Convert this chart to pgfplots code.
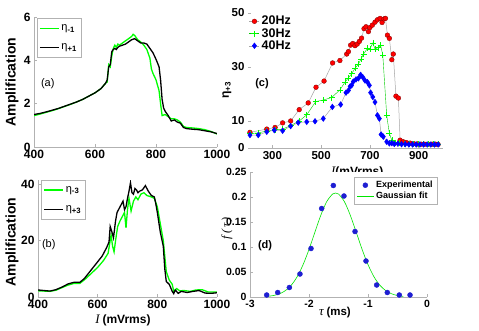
\documentclass[border=0pt]{standalone}
\usepackage{fontspec}
\setmainfont{Liberation Sans}
\newfontfamily\serif{Liberation Serif}
\usepackage{pgfplots}
\pgfplotsset{compat=1.18}
\definecolor{mgreen}{RGB}{0,255,0}
\definecolor{mblue}{RGB}{0,0,255}
\definecolor{dblue}{RGB}{30,30,210}
\pgfplotsset{
 mystyle/.style={
  scale only axis, axis x line*=bottom, axis y line*=left,
  axis line style={-,draw=gray!60, line width=0.8pt},
  tick style={gray!60, line width=0.6pt}, tick align=inside, major tick length=3pt,
  /pgf/number format/assume math mode=true,
  /pgf/number format/1000 sep={},
  ticklabel style={font=\bfseries\fontsize{12}{12}\selectfont},
  legend cell align=left,
 },
}
\begin{document}
\begin{tikzpicture}[x=1pt,y=1pt]
\useasboundingbox (0,0) rectangle (479,330);
% (a)
\begin{axis}[mystyle, at={(34pt,183pt)}, anchor=south west, width=183pt, height=130pt,
 xmin=400, xmax=1000, ymin=0, ymax=6, xtick={400,600,800,1000}, ytick={0,2,4,6},
 ylabel={\bfseries\fontsize{14}{14}\selectfont Amplification},
 ylabel style={at={(axis description cs:-0.12,0.5)}, anchor=center},
 legend style={at={(axis description cs:0.016,0.99)}, anchor=north west, draw=gray!60,
   font=\fontsize{11}{11}\selectfont, row sep=8pt, inner xsep=2pt, inner ysep=4pt},
 legend image code/.code={\draw[#1, line width=1.3pt] (0pt,0pt) -- (19pt,0pt);}]
\addplot[mgreen, line width=1.3pt] coordinates {
(400,1.45)(420,1.52)(440,1.60)(460,1.68)(480,1.77)(500,1.87)(520,1.97)(540,2.08)(560,2.20)(580,2.35)(600,2.50)(620,2.70)(635,2.95)(640,3.00)(645,3.80)(650,3.70)(655,4.20)(660,4.55)(665,4.70)(670,4.60)(675,4.75)(680,4.70)(690,4.80)(700,4.90)(710,5.00)(720,5.10)(725,5.20)(730,5.15)(740,4.95)(750,4.85)(760,4.70)(770,4.50)(780,4.10)(785,3.60)(790,3.40)(800,3.10)(810,2.60)(815,2.00)(820,1.45)(830,1.50)(840,1.40)(850,1.30)(860,1.30)(870,1.25)(880,1.15)(890,0.95)(900,0.90)(920,0.88)(940,0.85)(960,0.80)(980,0.72)(1000,0.60)};
\addlegendentry{η\textsubscript{\textbf{-1}}}
\addplot[black, line width=1.3pt] coordinates {
(400,1.50)(420,1.55)(440,1.62)(460,1.70)(480,1.78)(500,1.88)(520,1.98)(540,2.08)(560,2.20)(580,2.35)(600,2.50)(620,2.70)(635,2.95)(640,3.10)(645,3.70)(650,3.80)(655,4.40)(660,4.50)(665,4.55)(670,4.50)(675,4.60)(680,4.65)(690,4.70)(700,4.75)(710,4.85)(720,4.95)(730,5.00)(740,4.90)(750,4.80)(760,4.80)(770,4.75)(780,4.55)(790,4.35)(800,4.05)(810,3.70)(815,3.10)(820,2.20)(825,1.80)(830,1.65)(840,1.45)(850,1.20)(860,1.25)(870,1.15)(880,1.10)(890,0.90)(900,0.85)(920,0.82)(940,0.80)(960,0.75)(980,0.70)(1000,0.62)};
\addlegendentry{η\textsubscript{\textbf{+1}}}
\node[font=\fontsize{11}{11}\selectfont] at (rel axis cs:0.075,0.49) {(a)};
\end{axis}
% (b)
\begin{axis}[mystyle, at={(38pt,33pt)}, anchor=south west, width=179pt, height=117pt,
 xmin=400, xmax=1000, ymin=0, ymax=41.5, xtick={400,600,800,1000}, ytick={0,20,40},
 ylabel={\bfseries\fontsize{14}{14}\selectfont Amplification},
 ylabel style={at={(axis description cs:-0.145,0.47)}, anchor=center},
 xlabel={{\serif\itshape\fontsize{13}{13}\selectfont I} \bfseries\fontsize{12}{12}\selectfont(mVrms)},
 xlabel style={at={(axis description cs:0.475,-0.197)}, anchor=center},
 legend style={at={(axis description cs:0.017,1.0)}, anchor=north west, draw=gray!60,
   font=\fontsize{11}{11}\selectfont, row sep=8pt, inner xsep=2pt, inner ysep=4pt},
 legend image code/.code={\draw[#1, line width=1.6pt] (0pt,0pt) -- (19pt,0pt);}]
\addplot[mgreen, line width=1.3pt] coordinates {
(400,2.2)(440,2.0)(460,2.4)(480,3.3)(500,4.2)(520,4.8)(540,4.8)(560,6.5)(580,8.5)(600,10.5)(620,13.0)(635,15.5)(645,22.0)(650,18.0)(655,16.0)(660,20.0)(667,25.0)(675,27.0)(685,29.0)(690,30.0)(695,24.5)(700,31.0)(705,35.0)(712,30.5)(720,34.0)(728,35.5)(735,34.5)(745,36.5)(755,37.0)(765,36.0)(780,35.5)(790,35.0)(800,32.0)(810,26.0)(820,20.0)(830,9.0)(840,6.0)(850,4.5)(855,2.0)(865,3.0)(875,2.2)(890,2.3)(910,2.0)(930,2.5)(950,2.6)(970,1.8)(1000,1.8)};
\addlegendentry{η\textsubscript{\textbf{-3}}}
\addplot[black, line width=1.3pt] coordinates {
(400,2.5)(420,2.3)(440,2.1)(460,2.6)(480,3.5)(500,4.6)(520,5.2)(540,5.2)(555,6.5)(570,8.5)(585,10.5)(600,12.5)(615,14.5)(630,17.5)(638,19.5)(642,25.0)(648,23.0)(653,21.0)(660,27.0)(665,30.0)(675,32.0)(685,34.0)(690,31.0)(695,32.0)(700,35.0)(705,37.5)(710,40.5)(715,37.0)(720,36.5)(725,38.5)(730,38.0)(735,37.0)(740,37.5)(750,38.0)(760,39.5)(765,38.5)(770,37.5)(780,36.0)(790,35.5)(795,33.0)(800,30.0)(810,23.0)(820,18.0)(825,10.0)(830,5.5)(840,4.5)(850,2.0)(855,1.2)(860,2.5)(870,1.3)(880,2.0)(900,1.6)(920,2.0)(940,2.3)(960,1.4)(980,1.3)(1000,1.5)};
\addlegendentry{η\textsubscript{\textbf{+3}}}
\node[font=\fontsize{11}{11}\selectfont] at (rel axis cs:0.06,0.444) {(b)};
\end{axis}
% (c)
\begin{axis}[mystyle, at={(248pt,182pt)}, anchor=south west, width=195pt, height=135pt,
 xmin=200, xmax=1000, ymin=0, ymax=50, xtick={300,500,700,900}, ytick={0,10,30,50},
 y axis line style={draw=none},
 ticklabel style={font=\bfseries\fontsize{11.5}{11.5}\selectfont},
 ylabel={\bfseries\fontsize{12}{12}\selectfont η\textsubscript{+3}},
 ylabel style={at={(axis description cs:-0.108,0.43)}, anchor=center},
 xlabel={{\serif\itshape\fontsize{13}{13}\selectfont I}\bfseries\fontsize{12}{12}\selectfont(mVrms)},
 xlabel style={at={(axis description cs:0.56,-0.18)}, anchor=center},
 legend style={at={(axis description cs:0.0,1.0)}, anchor=north west, draw=none, fill=none,
   font=\bfseries\fontsize{12.5}{12.5}\selectfont, row sep=-2pt, inner xsep=1pt, inner ysep=1pt},
 legend image code/.code={\draw[mark repeat=2,mark phase=2,#1] plot coordinates {(0pt,0pt) (5pt,0pt) (10pt,0pt)};}]
\addplot[gray!70, line width=0.5pt, mark=*, mark size=2.4pt, mark options={fill=red, draw=red!50!black, line width=0.3pt}] coordinates {
(208,5.8)(277,7.0)(311,7.6)(342,9.3)(375,10.0)(410,14.2)(447,16.7)(479,22.5)(512,24.8)(547,31.5)(577,32.4)(605,34.8)(612,35.7)(621,38.1)(630,38.7)(639,37.9)(648,38.5)(657,39.5)(666,40.7)(676,44.2)(684,44.9)(694,43.1)(700,44.6)(710,45.5)(721,46.6)(731,47.5)(742,48.0)(750,46.5)(758,47.8)(764,48.0)(772,41.8)(780,40.6)(790,32.7)(796,34.8)(807,19.2)(817,18.5)(824,2.9)(837,2.3)(850,2.0)(865,1.8)(880,1.6)(895,1.5)(910,1.4)(925,1.4)(940,1.4)(955,1.4)(970,1.4)(980,1.3)};
\addlegendentry{20Hz}
\addplot[mgreen!80!black, line width=0.4pt, mark=+, mark size=3pt, mark options={mgreen, line width=0.6pt}] coordinates {
(208,5.3)(242,5.6)(277,6.3)(311,6.8)(342,7.0)(375,8.3)(410,10.0)(441,12.3)(478,17.2)(510,17.8)(543,18.7)(577,21.5)(598,24.4)(612,26.0)(625,27.5)(639,29.5)(653,31.1)(664,33.0)(674,34.8)(690,36.9)(700,36.7)(712,38.9)(721,36.7)(735,37.2)(744,38.1)(753,34.4)(769,12.1)(780,5.4)(790,2.9)(803,2.0)(820,1.7)(840,1.5)(860,1.5)(880,1.4)(900,1.4)(920,1.3)(940,1.3)(960,1.3)(980,1.3)};
\addlegendentry{30Hz}
\addplot[gray!70, line width=0.5pt, mark=diamond*, mark size=2.8pt, mark options={fill=mblue, draw=mblue}] coordinates {
(208,4.8)(242,4.8)(277,6.0)(308,6.6)(342,6.4)(375,8.1)(406,9.4)(441,9.7)(475,9.9)(509,10.9)(546,15.2)(580,16.1)(602,20.5)(612,21.3)(619,22.8)(625,23.2)(632,24.6)(643,25.4)(653,25.8)(662,27.1)(671,26.2)(680,25.0)(690,24.4)(698,23.2)(703,20.5)(712,18.9)(721,17.0)(731,12.1)(739,10.9)(746,5.0)(755,4.2)(769,2.3)(780,1.7)(790,1.8)(800,1.5)(815,1.6)(830,1.4)(845,1.4)(860,1.3)(875,1.3)(890,1.3)(905,1.3)(920,1.3)(935,1.3)(950,1.3)(965,1.3)(980,1.3)};
\addlegendentry{40Hz}
\node[font=\bfseries\fontsize{11}{11}\selectfont] at (rel axis cs:0.072,0.48) {(c)};
\end{axis}
% (d)
\begin{axis}[mystyle, at={(250pt,33pt)}, anchor=south west, width=177pt, height=125pt,
 axis background/.style={fill=white},
 xmin=-3, xmax=0, ymin=0, ymax=0.25, xtick={-3,-2,-1,0}, xticklabels={-3,-2,-1,0},
 ytick={0,0.05,0.1,0.15,0.2,0.25}, yticklabels={0,0.05,0.1,0.15,0.2,0.25},
 ticklabel style={font=\bfseries\fontsize{10.5}{10.5}\selectfont},
 ylabel={\serif\itshape\fontsize{12}{12}\selectfont f\,(\,τ\,)},
 ylabel style={at={(axis description cs:-0.13,0.55)}, anchor=center},
 xlabel={{\serif\itshape\fontsize{13}{13}\selectfont τ} \bfseries\fontsize{11.5}{11.5}\selectfont(ms)},
 xlabel style={at={(axis description cs:0.48,-0.128)}, anchor=center},
 legend style={at={(axis description cs:1.056,0.96)}, anchor=north east, draw=gray!60,
   font=\bfseries\fontsize{9}{9}\selectfont, row sep=-1pt, inner xsep=2pt, inner ysep=2pt},
 ]
\addplot[only marks, mark=*, mark size=2.5pt, mark options={fill=dblue, draw=dblue}] coordinates {
(-2.717,0.004)(-2.53,0.009)(-2.333,0.019)(-2.153,0.046)(-1.966,0.097)(-1.785,0.177)(-1.588,0.223)(-1.407,0.202)(-1.22,0.131)(-1.034,0.072)(-0.853,0.024)(-0.673,0.009)(-0.47,0.004)(-0.288,0.004)};
\addlegendentry{Experimental}
\addplot[mgreen!90!black, line width=0.6pt, smooth] coordinates {
(-2.7,0.0013)(-2.6,0.0030)(-2.5,0.0064)(-2.4,0.0128)(-2.3,0.0237)(-2.2,0.0407)(-2.1,0.0648)(-2.0,0.0952)(-1.9,0.1297)(-1.8,0.1634)(-1.7,0.1907)(-1.6,0.2060)(-1.55,0.208)(-1.5,0.2060)(-1.4,0.1907)(-1.3,0.1634)(-1.2,0.1297)(-1.1,0.0952)(-1.0,0.0648)(-0.9,0.0407)(-0.8,0.0237)(-0.7,0.0128)(-0.6,0.0064)(-0.5,0.0030)(-0.4,0.0013)};
\addlegendentry{Gaussian fit}
\node[font=\bfseries\fontsize{11}{11}\selectfont] at (rel axis cs:0.085,0.408) {(d)};
\end{axis}
\end{tikzpicture}
\end{document}
